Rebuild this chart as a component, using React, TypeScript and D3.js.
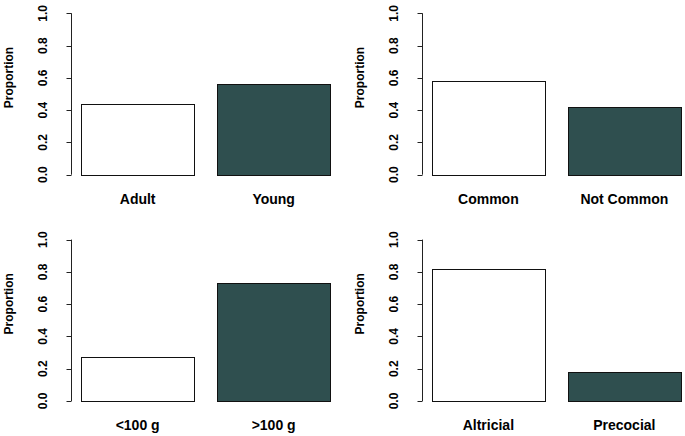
import React from "react";
import * as d3 from "d3";

const panel1Cats = ["Adult", "Young"];
const panel1Vals = [0.44, 0.56];
const panel2Cats = ["Common", "Not Common"];
const panel2Vals = [0.58, 0.42];
const panel3Cats = ["<100 g", ">100 g"];
const panel3Vals = [0.27, 0.73];
const panel4Cats = ["Altricial", "Precocial"];
const panel4Vals = [0.82, 0.18];
const yTicks = [0, 0.2, 0.4, 0.6, 0.8, 1.0];
const barColors = ["#ffffff", "#2F4F4F"];
const yLabel = "Proportion";

const panels = [
  { cats: panel1Cats, vals: panel1Vals, ox: 0, oy: 0 },
  { cats: panel2Cats, vals: panel2Vals, ox: 350.7, oy: 0 },
  { cats: panel3Cats, vals: panel3Vals, ox: 0, oy: 226.3 },
  { cats: panel4Cats, vals: panel4Vals, ox: 350.7, oy: 226.3 },
];

const FONT = "'Liberation Sans', Arial, Helvetica, sans-serif";

function Panel({ cats, vals, ox, oy }: { cats: string[]; vals: number[]; ox: number; oy: number }) {
  const axisX = 71 + ox;
  const y = d3.scaleLinear().domain([0, 1]).range([174.7 + oy, 13.3 + oy]);
  const x = d3
    .scaleBand<string>()
    .domain(cats)
    .range([axisX + 10, axisX + 10 + 249.3])
    .paddingInner(0.1667)
    .paddingOuter(0);
  const ax = Math.round(axisX) + 0.5;
  return (
    <g>
      <line x1={ax} x2={ax} y1={y(0)} y2={y(1)} stroke="#222" strokeWidth={1} />
      {yTicks.map((t) => (
        <g key={t}>
          <line x1={ax - 5} x2={ax} y1={Math.round(y(t)) + 0.5} y2={Math.round(y(t)) + 0.5} stroke="#222" strokeWidth={1} />
          <text
            transform={`translate(${axisX - 24},${y(t)}) rotate(-90)`}
            textAnchor="middle"
            fontFamily={FONT}
            fontWeight="bold"
            fontSize={12}
            fill="#000"
          >
            {t.toFixed(1)}
          </text>
        </g>
      ))}
      <text
        transform={`translate(${13 + ox},${77.5 + oy}) rotate(-90)`}
        textAnchor="middle"
        fontFamily={FONT}
        fontWeight="bold"
        fontSize={12}
        fill="#000"
      >
        {yLabel}
      </text>
      {cats.map((c, i) => (
        <g key={c}>
          <rect
            x={Math.round(x(c)!) + 0.5}
            y={Math.round(y(vals[i])) + 0.5}
            width={Math.round(x.bandwidth())}
            height={Math.round(y(0)) - Math.round(y(vals[i]))}
            fill={barColors[i]}
            stroke="#111"
            strokeWidth={1}
          />
          <text
            x={x(c)! + x.bandwidth() / 2}
            y={204 + oy}
            textAnchor="middle"
            fontFamily={FONT}
            fontWeight="bold"
            fontSize={14}
            fill="#000"
          >
            {c}
          </text>
        </g>
      ))}
    </g>
  );
}

export default function App() {
  return (
    <svg
      width={685}
      height={436}
      style={{ position: "absolute", left: 0, top: 0, background: "#fff" }}
    >
      <rect x={0} y={0} width={685} height={436} fill="#fff" />
      {panels.map((p, i) => (
        <Panel key={i} {...p} />
      ))}
    </svg>
  );
}
